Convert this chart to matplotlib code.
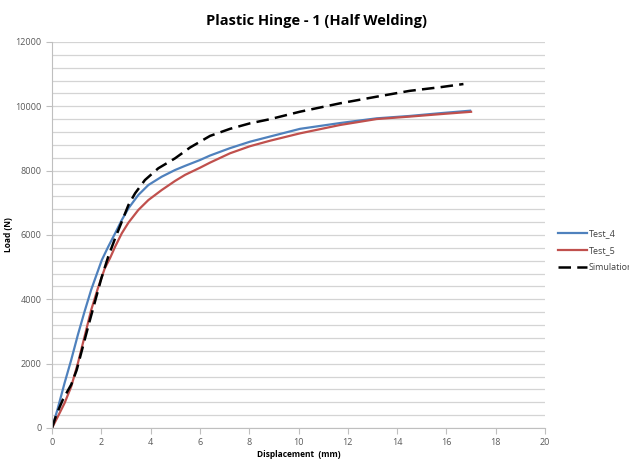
import matplotlib.pyplot as plt
from matplotlib.ticker import MultipleLocator

# values
test4_x = [0, 0.22, 0.51, 0.78, 1.05, 1.32, 1.59, 1.86, 2.02, 2.28, 2.56, 2.83, 3.1, 3.5,
           3.91, 4.45, 4.99, 5.4, 6.0, 6.41, 7.22, 8.03, 8.84, 10.06, 11.68, 13.17,
           14.5, 15.8, 16.96]
test4_y = [0, 570, 1400, 2120, 2900, 3620, 4300, 4880, 5222, 5636, 6052, 6466, 6829, 7243,
           7554, 7812, 8020, 8150, 8330, 8470, 8700, 8900, 9060, 9300, 9480, 9627,
           9700, 9790, 9864]

test5_x = [0, 0.24, 0.51, 0.78, 1.05, 1.32, 1.59, 1.86, 2.14, 2.35, 2.56, 2.83, 3.1, 3.5,
           3.91, 4.45, 4.99, 5.4, 6.0, 6.41, 7.22, 8.03, 8.84, 10.06, 11.68, 13.17,
           14.5, 15.8, 17.0]
test5_y = [0, 360, 775, 1290, 2016, 2843, 3671, 4343, 4963, 5275, 5636, 6052, 6383, 6777,
           7087, 7398, 7680, 7870, 8090, 8250, 8540, 8760, 8930, 9160, 9419, 9605,
           9680, 9760, 9830]

sim_x = [0, 0.18, 0.45, 0.78, 1.0, 1.5, 2.0, 2.28, 2.56, 2.83, 3.1, 3.37, 3.77, 4.31,
         4.99, 5.6, 6.41, 7.22, 8.03, 8.84, 10.06, 11.68, 13.17, 14.5, 15.8, 16.69]
sim_y = [0, 420, 900, 1350, 1800, 3250, 4650, 5325, 5897, 6414, 6932, 7296, 7709, 8073,
         8383, 8720, 9080, 9300, 9471, 9600, 9833, 10093, 10300, 10480, 10600, 10693]

plt.rcParams['font.family'] = ['Open Sans', 'DejaVu Sans']

fig = plt.figure(figsize=(6.29, 4.61), dpi=100)
ax = fig.add_axes([0.0827, 0.0716, 0.7838, 0.8373])

ax.plot(test4_x, test4_y, color='#4F81BD', lw=1.6, label='Test_4')
ax.plot(test5_x, test5_y, color='#C0504D', lw=1.6, label='Test_5')
ax.plot(sim_x, sim_y, color='black', lw=1.8, dashes=(5, 2.5), label='Simulation')

ax.set_xlim(0, 20)
ax.set_ylim(0, 12000)
ax.xaxis.set_major_locator(MultipleLocator(2))
ax.yaxis.set_major_locator(MultipleLocator(2000))
ax.yaxis.set_minor_locator(MultipleLocator(400))
ax.grid(True, which='both', axis='y', color='#d4d4d4', lw=0.9)
ax.set_axisbelow(True)

for s in ['top', 'right']:
    ax.spines[s].set_visible(False)
for s in ['left', 'bottom']:
    ax.spines[s].set_color('#bfbfbf')
ax.tick_params(which='major', length=4, color='#bfbfbf', labelsize=6.5, labelcolor='#595959')
ax.tick_params(which='minor', length=0)

ax.set_xlabel('Displacement  (mm)', fontsize=6, fontweight='bold', labelpad=2)
ax.set_ylabel('Load (N)', fontsize=6, fontweight='bold', labelpad=2)
fig.text(0.503, 0.955, 'Plastic Hinge - 1 (Half Welding)', ha='center', va='center',
         fontsize=10.5, fontweight='bold')

ax.legend(loc='center left', bbox_to_anchor=(1.01, 0.459), frameon=False,
          fontsize=6.5, handlelength=3.2, handletextpad=0.2, labelspacing=0.9,
          labelcolor='#404040')

fig.savefig('out.png', dpi=100)
